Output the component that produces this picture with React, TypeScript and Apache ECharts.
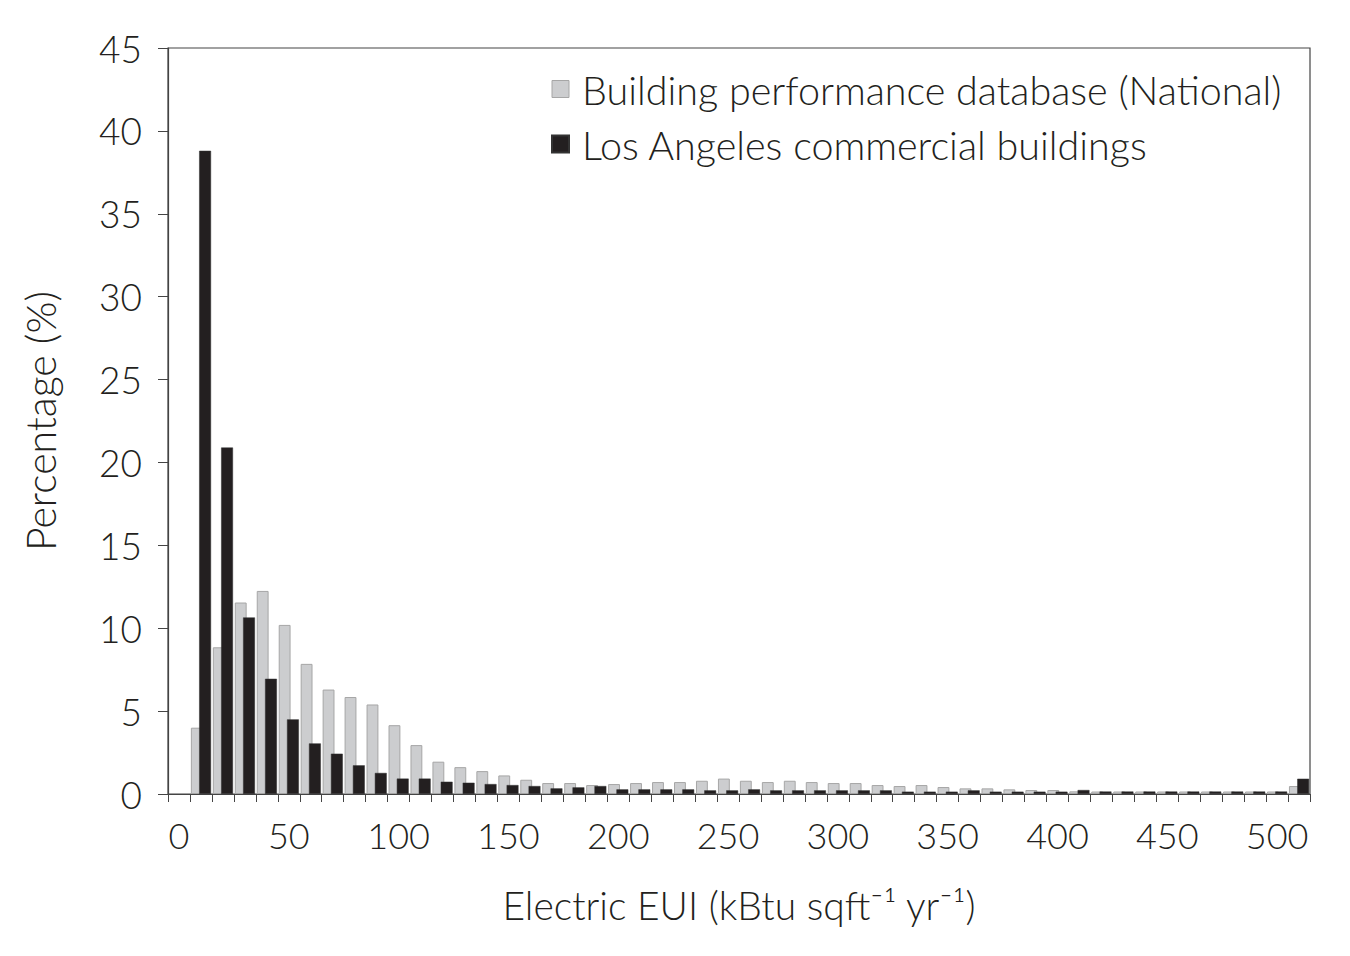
import { useEffect, useRef } from 'react'
import * as echarts from 'echarts'

// bins of 10 kBtu, label shown every 50
const bins: string[] = Array.from({ length: 52 }, (_, i) => String(i * 10))

const nationalPct = [
  null, 4.0, 8.85, 11.55, 12.25, 10.2, 7.85, 6.3, 5.85, 5.4,
  4.15, 2.95, 1.95, 1.62, 1.38, 1.12, 0.86, 0.66, 0.66, 0.54,
  0.6, 0.66, 0.72, 0.72, 0.8, 0.93, 0.8, 0.72, 0.8, 0.72,
  0.66, 0.66, 0.54, 0.48, 0.54, 0.42, 0.34, 0.34, 0.28, 0.24,
  0.24, 0.16, 0.15, 0.15, 0.15, 0.15, 0.15, 0.15, 0.15, 0.15,
  0.15, 0.48,
]

const laPct = [
  null, 38.8, 20.9, 10.65, 6.95, 4.5, 3.05, 2.43, 1.73, 1.27,
  0.93, 0.93, 0.74, 0.68, 0.6, 0.54, 0.48, 0.34, 0.4, 0.48,
  0.28, 0.28, 0.28, 0.28, 0.22, 0.22, 0.28, 0.22, 0.22, 0.22,
  0.22, 0.22, 0.22, 0.14, 0.14, 0.14, 0.22, 0.14, 0.14, 0.14,
  0.14, 0.24, 0.15, 0.15, 0.15, 0.15, 0.15, 0.15, 0.15, 0.15,
  0.15, 0.92,
]

const FONT = 'Lato'
const INK = '#231f20'

export default function App() {
  const chartRef = useRef<HTMLDivElement>(null)

  useEffect(() => {
    document.body.style.margin = '0'
    if (!chartRef.current) return
    const chart = echarts.init(chartRef.current, null, { renderer: 'svg' })

    chart.setOption({
      animation: false,
      textStyle: { fontFamily: FONT, color: INK, fontWeight: 300 },
      grid: {
        left: 168,
        right: 40,
        top: 48,
        bottom: 162,
        show: true,
        borderColor: '#444',
        borderWidth: 1.2,
      },
      legend: {
        orient: 'vertical',
        left: 546,
        top: 64,
        icon: 'rect',
        itemWidth: 17,
        itemHeight: 17,
        itemGap: 15,
        textStyle: { fontSize: 39.5, color: INK, fontFamily: FONT, fontWeight: 300, padding: [0, 0, 0, 8] },
        data: [
          { name: 'Building performance database (National)', itemStyle: { color: '#cccdcf', borderColor: '#a6a6a6', borderWidth: 1 } },
          { name: 'Los Angeles commercial buildings', itemStyle: { color: INK } },
        ],
      },
      xAxis: {
        type: 'category',
        data: bins,
        boundaryGap: true,
        name: 'Electric EUI (kBtu sqft⁻¹ yr⁻¹)',
        nameLocation: 'middle',
        nameGap: 91,
        nameTextStyle: { fontSize: 39, color: INK, fontFamily: FONT, fontWeight: 300 },
        axisLine: { lineStyle: { color: '#444', width: 1.2 } },
        axisTick: { show: true, interval: 0, length: 8, lineStyle: { color: '#444' } },
        axisLabel: { interval: 4, fontSize: 36, color: INK, margin: 23, fontWeight: 300 },
        splitLine: { show: false },
      },
      yAxis: {
        type: 'value',
        min: 0,
        max: 45,
        interval: 5,
        name: 'Percentage (%)',
        nameLocation: 'middle',
        nameGap: 107,
        nameTextStyle: { fontSize: 41, color: INK, fontFamily: FONT, fontWeight: 300 },
        axisLine: { show: true, lineStyle: { color: '#444', width: 1.2 } },
        axisTick: { show: true, length: 10, lineStyle: { color: '#444' } },
        axisLabel: { fontSize: 37, color: INK, margin: 26, fontWeight: 300 },
        splitLine: { show: false },
      },
      series: [
        {
          name: 'Building performance database (National)',
          type: 'bar',
          data: nationalPct,
          barWidth: '54%',
          barGap: '-30%',
          itemStyle: { color: '#cccdcf', borderColor: '#a6a6a6', borderWidth: 1 },
        },
        {
          name: 'Los Angeles commercial buildings',
          type: 'bar',
          data: laPct,
          barWidth: '54%',
          barGap: '-30%',
          itemStyle: { color: INK, borderColor: '#333', borderWidth: 0.5 },
        },
      ],
    })

    return () => {
      chart.dispose()
    }
  }, [])

  return <div ref={chartRef} style={{ width: 1350, height: 956 }} />
}
